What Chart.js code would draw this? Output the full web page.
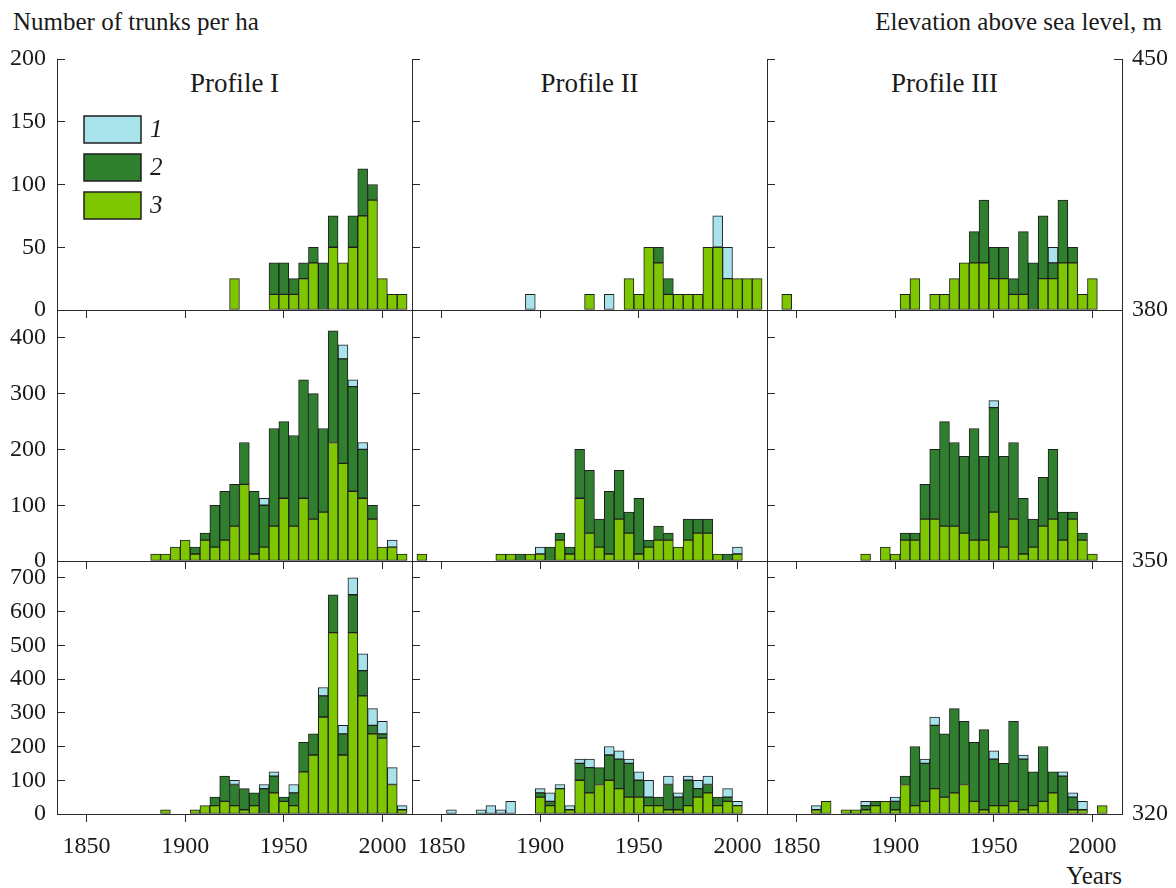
<!DOCTYPE html>
<html lang="en">
<head>
<meta charset="UTF-8">
<title>Number of trunks per ha by profile and elevation</title>
<script src="https://cdn.jsdelivr.net/npm/chart.js@4.4.1/dist/chart.umd.min.js"></script>
<style>
  body { margin: 0; background: #fff; }
  #fig { position: relative; width: 1176px; height: 888px; font-family: 'Liberation Serif', 'Times New Roman', serif; color: #1a1a1a; }
  #fig canvas { position: absolute; left: 0; top: 0; }
  .lbl { position: absolute; white-space: nowrap; line-height: 1; }
  .ttl { position: absolute; width: 355px; text-align: center; font-size: 27px; line-height: 1; top: 70px; }
</style>
</head>
<body>
<div id="fig">
  <div class="lbl" style="left:13px; top:9px; font-size:25px">Number of trunks per ha</div>
  <div class="lbl" style="right:14px; top:9px; font-size:25px">Elevation above sea level, m</div>
  <div class="lbl" style="right:54px; top:863px; font-size:25px">Years</div>
  <div class="ttl" style="left:57px">Profile I</div>
  <div class="ttl" style="left:412px">Profile II</div>
  <div class="ttl" style="left:767px">Profile III</div>
</div>
<script>
// 5-year bins (bin centres)
const years = [1840,1845,1850,1855,1860, 1865,1870,1875,1880,1885, 1890,1895,1900,1905,1910,
               1915,1920,1925,1930,1935, 1940,1945,1950,1955,1960, 1965,1970,1975,1980,1985,
               1990,1995,2000,2005,2010];

// row 1: 380-450 m
const r1c1_s1 = [0,0,0,0,0, 0,0,0,0,0, 0,0,0,0,0, 0,0,0,0,0, 0,0,0,0,0, 0,0,0,0,0, 0,0,0,0,0];
const r1c1_s2 = [0,0,0,0,0, 0,0,0,0,0, 0,0,0,0,0, 0,0,0,0,0, 0,25,25,12.5,12.5, 12.5,37.5,25,0,25, 37.5,12.5,0,0,0];
const r1c1_s3 = [0,0,0,0,0, 0,0,0,0,0, 0,0,0,0,0, 0,0,25,0,0, 0,12.5,12.5,12.5,25, 37.5,0,50,37.5,50, 75,87.5,25,12.5,12.5];

const r1c2_s1 = [0,0,0,0,0, 0,0,0,0,0, 0,12.5,0,0,0, 0,0,0,0,12.5, 0,0,0,0,0, 0,0,0,0,0, 25,25,0,0,0];
const r1c2_s2 = [0,0,0,0,0, 0,0,0,0,0, 0,0,0,0,0, 0,0,0,0,0, 0,0,0,0,12.5, 12.5,0,0,0,0, 0,0,0,0,0];
const r1c2_s3 = [0,0,0,0,0, 0,0,0,0,0, 0,0,0,0,0, 0,0,12.5,0,0, 0,25,12.5,50,37.5, 12.5,12.5,12.5,12.5,50, 50,25,25,25,25];

const r1c3_s1 = [0,0,0,0,0, 0,0,0,0,0, 0,0,0,0,0, 0,0,0,0,0, 0,0,0,0,0, 0,0,0,12.5,0, 0,0,0,0,0];
const r1c3_s2 = [0,0,0,0,0, 0,0,0,0,0, 0,0,0,0,0, 0,0,0,0,0, 25,50,25,25,12.5, 50,37.5,50,12.5,50, 12.5,0,0,0,0];
const r1c3_s3 = [0,12.5,0,0,0, 0,0,0,0,0, 0,0,0,12.5,25, 0,12.5,12.5,25,37.5, 37.5,37.5,25,25,12.5, 12.5,0,25,25,37.5, 37.5,12.5,25,0,0];

// row 2: 350-380 m
const r2c1_s1 = [0,0,0,0,0, 0,0,0,0,0, 0,0,0,0,0, 0,0,0,0,0, 12.5,0,0,0,0, 0,0,0,25,12.5, 12.5,0,0,12.5,0];
const r2c1_s2 = [0,0,0,0,0, 0,0,0,0,0, 0,0,0,12.5,12.5, 75,87.5,75,75,112.5, 75,175,137.5,162.5,212.5, 225,150,200,187.5,187.5, 87.5,25,0,0,0];
const r2c1_s3 = [0,0,0,0,0, 0,0,0,0,12.5, 12.5,25,37.5,12.5,37.5, 25,37.5,62.5,137.5,12.5, 25,62.5,112.5,62.5,112.5, 75,87.5,212.5,175,125, 112.5,75,25,25,12.5];

const r2c2_s1 = [0,0,0,0,0, 0,0,0,0,0, 0,0,12.5,0,0, 0,0,0,0,0, 0,0,0,0,0, 0,0,0,0,0, 0,0,12.5,0,0];
const r2c2_s2 = [0,0,0,0,0, 0,0,0,0,0, 12.5,0,0,25,12.5, 12.5,87.5,112.5,50,112.5, 87.5,37.5,100,12.5,25, 12.5,0,37.5,25,25, 0,12.5,0,0,0];
const r2c2_s3 = [12.5,0,0,0,0, 0,0,0,12.5,12.5, 0,12.5,12.5,0,37.5, 12.5,112.5,50,25,12.5, 75,50,12.5,25,37.5, 37.5,25,37.5,50,50, 12.5,0,12.5,0,0];

const r2c3_s1 = [0,0,0,0,0, 0,0,0,0,0, 0,0,0,0,0, 0,0,0,0,0, 0,0,12.5,0,0, 0,0,0,0,0, 0,0,0,0,0];
const r2c3_s2 = [0,0,0,0,0, 0,0,0,0,0, 0,0,0,12.5,12.5, 62.5,125,187.5,150,137.5, 200,150,187.5,162.5,137.5, 100,50,87.5,125,50, 12.5,12.5,0,0,0];
const r2c3_s3 = [0,0,0,0,0, 0,0,0,0,12.5, 0,25,12.5,37.5,37.5, 75,75,62.5,62.5,50, 37.5,37.5,87.5,25,75, 12.5,25,62.5,75,37.5, 75,37.5,12.5,0,0];

// row 3: 320-350 m
const r3c1_s1 = [0,0,0,0,0, 0,0,0,0,0, 0,0,0,0,0, 0,0,12.5,0,0, 12.5,12.5,0,25,0, 0,25,0,25,50, 50,50,37.5,50,12.5];
const r3c1_s2 = [0,0,0,0,0, 0,0,0,0,0, 0,0,0,0,0, 25,75,62.5,62.5,37.5, 75,50,12.5,37.5,87.5, 62.5,62.5,112.5,62.5,112.5, 75,25,12.5,0,0];
const r3c1_s3 = [0,0,0,0,0, 0,0,0,0,0, 12.5,0,0,12.5,25, 25,37.5,25,12.5,25, 0,62.5,37.5,25,125, 175,287.5,537.5,175,537.5, 350,237.5,225,87.5,12.5];

const r3c2_s1 = [0,0,0,12.5,0, 0,12.5,25,12.5,37.5, 0,0,12.5,25,12.5, 12.5,12.5,25,0,25, 25,12.5,25,50,0, 25,12.5,12.5,25,25, 0,25,12.5,0,0];
const r3c2_s2 = [0,0,0,0,0, 0,0,0,0,0, 0,0,12.5,12.5,0, 0,50,75,50,75, 87.5,100,50,25,25, 75,37.5,75,25,25, 25,12.5,0,0,0];
const r3c2_s3 = [0,0,0,0,0, 0,0,0,0,0, 0,0,50,25,75, 12.5,100,62.5,87.5,100, 75,50,50,25,25, 12.5,12.5,25,50,62.5, 25,37.5,25,0,0];

const r3c3_s1 = [0,0,0,0,12.5, 0,0,0,0,12.5, 0,0,12.5,0,0, 12.5,25,0,0,0, 0,0,25,0,0, 12.5,0,0,0,12.5, 12.5,25,0,0,0];
const r3c3_s2 = [0,0,0,0,0, 0,0,0,0,12.5, 12.5,0,25,25,175, 112.5,187.5,187.5,250,187.5, 175,237.5,137.5,125,237.5, 150,100,162.5,62.5,112.5, 37.5,0,0,0,0];
const r3c3_s3 = [0,0,0,0,12.5, 37.5,0,12.5,12.5,12.5, 25,37.5,12.5,87.5,25, 37.5,75,50,62.5,87.5, 37.5,12.5,25,25,37.5, 12.5,25,37.5,62.5,0, 12.5,12.5,0,25,0];

// axes
const yearTicks = [1850, 1900, 1950, 2000];
const countTicks = [[0, 50, 100, 150, 200], [0, 100, 200, 300, 400], [0, 100, 200, 300, 400, 500, 600, 700]];
const countMax = [200, 450, 750];
const elevRange = [[380, 450], [350, 380], [320, 350]];
const elevTicks = [[380, 450], [350], [320]];

const colors = { s1: '#a8e3ec', s2: '#2f7f2f', s3: '#7ec600' };
const ink = '#2a2a2a';

const panels = [
  [[r1c1_s1, r1c1_s2, r1c1_s3], [r1c2_s1, r1c2_s2, r1c2_s3], [r1c3_s1, r1c3_s2, r1c3_s3]],
  [[r2c1_s1, r2c1_s2, r2c1_s3], [r2c2_s1, r2c2_s2, r2c2_s3], [r2c3_s1, r2c3_s2, r2c3_s3]],
  [[r3c1_s1, r3c1_s2, r3c1_s3], [r3c2_s1, r3c2_s2, r3c2_s3], [r3c3_s1, r3c3_s2, r3c3_s3]]
];

const W = 1176, H = 888;
const colX = [57, 412, 767, 1122];
const rowY = [59, 310, 561, 814];

Chart.defaults.font.family = "'Liberation Serif', 'Times New Roman', serif";
Chart.defaults.font.size = 24;
Chart.defaults.color = '#1a1a1a';

const pts = arr => years.map((yr, i) => ({ x: yr, y: arr[i] === 0 ? null : arr[i] }));

function ds(label, arr, color) {
  return {
    label: label, data: pts(arr), backgroundColor: color,
    borderColor: '#1f1f1f', borderWidth: 1, borderSkipped: false,
    barPercentage: 1, categoryPercentage: 1, stack: 'all', yAxisID: 'y'
  };
}

// legend boxes 1, 2, 3 in the first panel
const legendBoxes = {
  id: 'legendBoxes',
  afterDraw(chart) {
    const ctx = chart.ctx;
    const items = chart.data.datasets.slice().reverse();
    ctx.save();
    items.forEach((d, i) => {
      const y = 116 + i * 38;
      ctx.fillStyle = d.backgroundColor;
      ctx.fillRect(84, y, 57, 27);
      ctx.strokeStyle = '#1f1f1f';
      ctx.lineWidth = 1.5;
      ctx.strokeRect(84, y, 57, 27);
      ctx.fillStyle = '#1a1a1a';
      ctx.font = "italic 25px 'Liberation Serif'";
      ctx.textBaseline = 'middle';
      ctx.fillText(d.label, 150, y + 14);
    });
    ctx.restore();
  }
};

const fig = document.getElementById('fig');

for (let r = 0; r < 3; r++) {
  for (let c = 0; c < 3; c++) {
    const cv = document.createElement('canvas');
    cv.width = W; cv.height = H;
    fig.appendChild(cv);
    const [a1, a2, a3] = panels[r][c];

    // room for tick labels (labels are clipped to their scale box)
    const yW = c === 0 ? 57 : 0;
    const xH = r === 2 ? 50 : 0;
    const eW = c === 2 ? 50 : 0;

    const scales = {
      x: {
        type: 'linear', min: 1835, max: 2015, stacked: true, offset: false,
        afterBuildTicks: s => { s.ticks = yearTicks.map(v => ({ value: v })); },
        afterFit: s => { s.height = xH; },
        grid: { drawOnChartArea: false, offset: false, tickLength: 8, color: ink },
        border: { color: ink, width: 1 },
        ticks: { display: r === 2, padding: 10, maxRotation: 0, autoSkip: false, callback: v => String(v) }
      },
      y: {
        type: 'linear', position: 'left', min: 0, max: countMax[r], stacked: true,
        afterBuildTicks: s => { s.ticks = countTicks[r].map(v => ({ value: v })); },
        afterFit: s => { s.width = yW; },
        grid: { drawOnChartArea: false, tickLength: -8, color: ink },
        border: { color: ink, width: 1 },
        ticks: { display: c === 0, padding: 19, callback: v => String(v) }
      }
    };
    if (c === 2) {
      scales.elev = {
        type: 'linear', position: 'right', min: elevRange[r][0], max: elevRange[r][1],
        afterBuildTicks: s => { s.ticks = elevTicks[r].map(v => ({ value: v })); },
        afterFit: s => { s.width = eW; },
        grid: { drawOnChartArea: false, tickLength: -8, color: ink },
        border: { color: ink, width: 1 },
        ticks: { padding: 18, callback: v => String(v) }
      };
    }

    new Chart(cv, {
      type: 'bar',
      data: {
        datasets: [
          ds('3', a3, colors.s3),
          ds('2', a2, colors.s2),
          ds('1', a1, colors.s1)
        ]
      },
      options: {
        responsive: false,
        animation: false,
        events: [],
        layout: { padding: {
          left: colX[c] - yW,
          right: W - colX[c + 1] - eW,
          top: rowY[r],
          bottom: H - rowY[r + 1] - xH
        } },
        plugins: { legend: { display: false }, tooltip: { enabled: false } },
        scales: scales
      },
      plugins: (r === 0 && c === 0) ? [legendBoxes] : []
    });
  }
}
</script>
</body>
</html>
